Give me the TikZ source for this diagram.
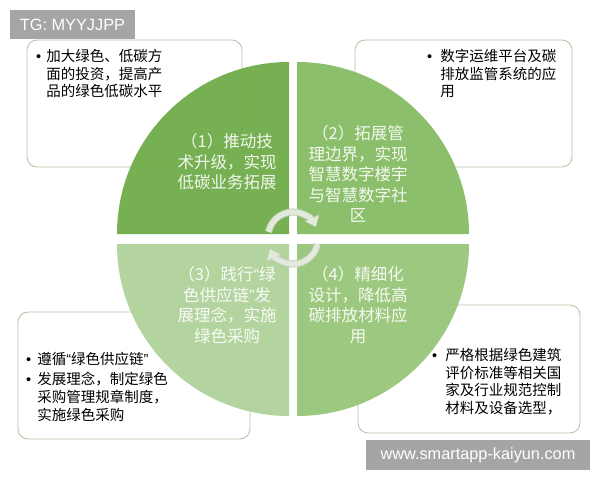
\documentclass[tikz,border=0pt]{standalone}
\usepackage{fontspec}
\setmainfont{Noto Sans CJK SC}
\newfontfamily\latq{Liberation Sans}
\usetikzlibrary{arrows.meta}
\definecolor{qone}{RGB}{104,168,64}
\definecolor{qtwo}{RGB}{128,185,92}
\definecolor{qthree}{RGB}{172,208,149}
\definecolor{qfour}{RGB}{147,195,114}
\definecolor{boxline}{RGB}{185,188,165}
\definecolor{tagfill}{RGB}{165,165,165}
\definecolor{cycfill}{RGB}{226,234,220}
\definecolor{cycline}{RGB}{196,206,190}
\newcommand\bul{{\latq •}}
\newcommand\myoq{{\latq “}}
\newcommand\mycq{{\latq ”}}
\tikzset{
  infobox/.style={draw=boxline, line width=0.8pt, fill=white, rounded corners=10pt, inner sep=0pt, outer sep=0pt},
  quad/.style={fill opacity=0.9},
  qtext/.style={text=white, text opacity=0.9, align=center, inner sep=0pt, font=\fontsize{16.5}{20.5}\selectfont},
  btext/.style={anchor=west, inner sep=0pt, text=black, font=\fontsize{14.5}{17.8}\selectfont},
  tag/.style={fill=tagfill, text=white, inner sep=0pt, font=\latq\fontsize{16.3}{18}\selectfont},
  cyc/.style={preaction={draw=cycline, line width=7pt, -{Triangle[width=15.5pt,length=10pt]}}, draw=cycfill, line width=5.2pt, -{Triangle[width=14pt,length=9pt]}}
}
\begin{document}
\begin{tikzpicture}[x=1pt,y=1pt]
\useasboundingbox (0,0) rectangle (600,-480);
\fill[white] (0,0) rectangle (600,-480);
% info boxes
\node[infobox, minimum width=215, minimum height=127] (b1) at (134.5,-103.5) {};
\node[infobox, minimum width=217, minimum height=127] (b2) at (463.5,-103.5) {};
\node[infobox, minimum width=232, minimum height=127] (b3) at (134,-375.5) {};
\node[infobox, minimum width=222, minimum height=128] (b4) at (469,-369) {};
% quadrants
\fill[quad, qone] (289,-234) -- ++(-172,0) arc[start angle=180, end angle=90, radius=172] -- cycle;
\fill[quad, qtwo] (297,-234) -- ++(0,172) arc[start angle=90, end angle=0, radius=172] -- cycle;
\fill[quad, qthree] (289,-244) -- ++(0,-172) arc[start angle=270, end angle=180, radius=172] -- cycle;
\fill[quad, qfour] (297,-244) -- ++(172,0) arc[start angle=0, end angle=-90, radius=172] -- cycle;
% cycle arrows
\coordinate (cu) at (293,-237);
\coordinate (cl) at (293,-239);
\draw[cyc] ([shift={(168:25)}]cu) arc[start angle=168, end angle=24, radius=25];
\draw[cyc] ([shift={(-12:25)}]cl) arc[start angle=-12, end angle=-156, radius=25];
% quadrant texts
\node[qtext] (t1) at (227,-162) {（1）推动技\\术升级，实现\\低碳业务拓展};
\node[qtext] (t2) at (358,-174) {（2）拓展管\\理边界，实现\\智慧数字楼宇\\与智慧数字社\\区};
\node[qtext] (t3) at (227,-305) {（3）践行\myoq 绿\\色供应链\mycq 发\\展理念，实施\\绿色采购};
\node[qtext] (t4) at (358,-305) {（4）精细化\\设计，降低高\\碳排放材料应\\用};
% box texts
\node[btext] (x1) at (36,-75.5) {\begin{tabular}{@{}l@{\hspace{5pt}}l@{}}\bul & 加大绿色、低碳方\\ & 面的投资，提高产\\ & 品的绿色低碳水平\end{tabular}};
\node[btext] (x2) at (427,-75.5) {\begin{tabular}{@{}l@{\hspace{8pt}}l@{}}\bul & 数字运维平台及碳\\ & 排放监管系统的应\\ & 用\end{tabular}};
\node[btext] (x3) at (26,-389) {\begin{tabular}{@{}l@{\hspace{6pt}}l@{}}\bul & 遵循\myoq 绿色供应链\mycq\\[2pt] \bul & 发展理念，制定绿色\\ & 采购管理规章制度，\\ & 实施绿色采购\end{tabular}};
\node[btext] (x4) at (432,-383.5) {\begin{tabular}{@{}l@{\hspace{8pt}}l@{}}\bul & 严格根据绿色建筑\\ & 评价标准等相关国\\ & 家及行业规范控制\\ & 材料及设备选型，\end{tabular}};
% tags
\node[tag, minimum width=125, minimum height=29] (g1) at (72.5,-24.5) {TG: MYYJJPP};
\node[tag, minimum width=224, minimum height=30] (g2) at (478,-455) {www.smartapp-kaiyun.com};
\end{tikzpicture}
\end{document}
